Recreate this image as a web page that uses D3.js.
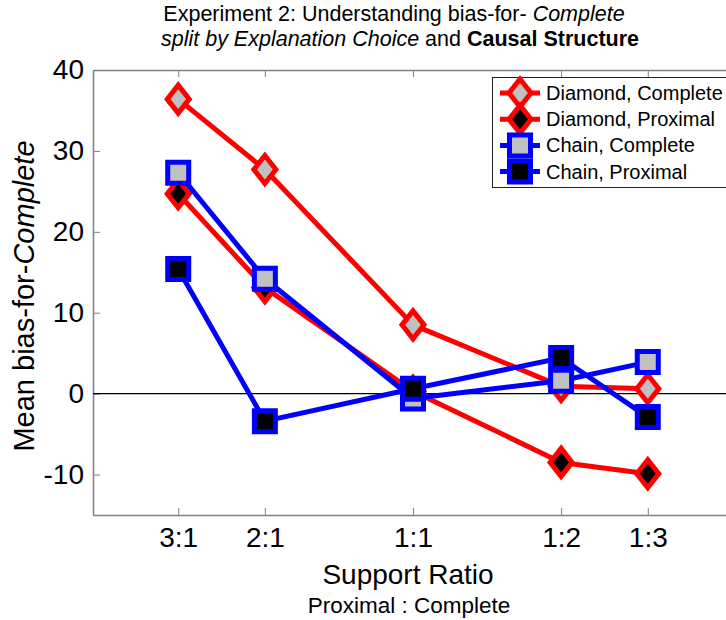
<!DOCTYPE html>
<meta charset="utf-8">
<style>
body { margin: 0; background: #fff; }
svg { display: block; font-family: "Liberation Sans", Arial, Helvetica, sans-serif; }
</style>
<body>
<div id="chart"></div>
<script src="https://cdn.jsdelivr.net/npm/d3@7"></script>
<script>

// data
var ratioLabels = ["3:1", "2:1", "1:1", "1:2", "1:3"];
var ratioValues = [3, 2, 1, 1 / 2, 1 / 3];   // proximal : complete

var diamondComplete = [36.4, 27.7, 8.5, 0.9, 0.6];
var diamondProximal = [24.7, 13.1, 0.3, -8.5, -9.9];
var chainComplete   = [27.3, 14.2, -0.6, 1.6, 3.9];
var chainProximal   = [15.4, -3.4, 0.6, 4.4, -2.9];

var seriesNames = ["Diamond, Complete", "Diamond, Proximal", "Chain, Complete", "Chain, Proximal"];
var yTicks = [-10, 0, 10, 20, 30, 40];

var width = 726,
    height = 620;

// plot box (the right edge runs a little past the window, as in the figure)
var boxLeft = 93, boxRight = 733, boxTop = 70, boxBottom = 515;

var svg = d3.select("#chart").append("svg")
    .attr("width", width)
    .attr("height", height);

var x = d3.scaleLog()
    .domain([4.47, 1 / 4.47])
    .range([boxLeft, boxRight]);

var y = d3.scaleLinear()
    .domain([-15, 40])
    .range([boxBottom, boxTop]);

var series = [
    {name: seriesNames[0], values: diamondComplete, color: "#ff0000", fill: "#c0c0c0", shape: "diamond"},
    {name: seriesNames[1], values: diamondProximal, color: "#ff0000", fill: "#000000", shape: "diamond"},
    {name: seriesNames[2], values: chainComplete,   color: "#0000ff", fill: "#c0c0c0", shape: "square"},
    {name: seriesNames[3], values: chainProximal,   color: "#0000ff", fill: "#000000", shape: "square"}
];

function markerPath(shape) {
    if (shape == "diamond") return "M0,-14L11,0L0,14L-11,0Z";
    return "M-10.5,-10.5L10.5,-10.5L10.5,10.5L-10.5,10.5Z";
}

// axes (box with inward ticks)
var axisColor = "#808080";

var xBottom = svg.append("g")
    .attr("transform", "translate(0," + boxBottom + ")")
    .call(d3.axisBottom(x).tickValues(ratioValues).tickFormat(function(d, i) { return ratioLabels[i]; })
        .tickSizeInner(-7).tickSizeOuter(0).tickPadding(12));

var xTop = svg.append("g")
    .attr("transform", "translate(0," + boxTop + ")")
    .call(d3.axisTop(x).tickValues(ratioValues).tickFormat("")
        .tickSizeInner(-7).tickSizeOuter(0));

// plain hyphen for negatives, like the original figure
var yLeft = svg.append("g")
    .attr("transform", "translate(" + boxLeft + ",0)")
    .call(d3.axisLeft(y).tickValues(yTicks).tickFormat(function(d) { return String(d); })
        .tickSizeInner(-7).tickSizeOuter(0).tickPadding(9));

var yRight = svg.append("g")
    .attr("transform", "translate(" + boxRight + ",0)")
    .call(d3.axisRight(y).tickValues(yTicks).tickFormat("").tickSizeInner(-7).tickSizeOuter(0));

[xBottom, xTop, yLeft, yRight].forEach(function(g) {
    g.select(".domain").attr("stroke", axisColor).attr("stroke-width", 1.5);
    g.selectAll(".tick line").attr("stroke", axisColor).attr("stroke-width", 1);
    g.selectAll(".tick text")
        .attr("fill", "#000")
        .style("font-family", "'Liberation Sans', Arial, sans-serif")
        .style("font-size", "28px");
});

// zero line
svg.append("line")
    .attr("x1", boxLeft).attr("x2", boxRight)
    .attr("y1", y(0)).attr("y2", y(0))
    .attr("stroke", "#000")
    .attr("stroke-width", 1.2);

// data lines and markers
var line = d3.line()
    .x(function(d, i) { return x(ratioValues[i]); })
    .y(function(d) { return y(d); });

series.forEach(function(s) {
    var g = svg.append("g");
    g.append("path")
        .attr("d", line(s.values))
        .attr("fill", "none")
        .attr("stroke", s.color)
        .attr("stroke-width", 5)
        .attr("stroke-linejoin", "round");
    g.selectAll(".mark")
        .data(s.values)
        .enter().append("path")
        .attr("class", "mark")
        .attr("transform", function(d, i) { return "translate(" + x(ratioValues[i]) + "," + y(d) + ")"; })
        .attr("d", markerPath(s.shape))
        .attr("fill", s.fill)
        .attr("stroke", s.color)
        .attr("stroke-width", 5)
        .attr("stroke-linejoin", "miter");
});

// legend
var legend = svg.append("g");
legend.append("rect")
    .attr("x", 492.5).attr("y", 77.5)
    .attr("width", 260).attr("height", 110)
    .attr("fill", "#fff")
    .attr("stroke", "#222")
    .attr("stroke-width", 1);

series.forEach(function(s, i) {
    var cy = 93 + i * 26.2;
    var row = legend.append("g");
    row.append("line")
        .attr("x1", 500).attr("x2", 540)
        .attr("y1", cy).attr("y2", cy)
        .attr("stroke", s.color)
        .attr("stroke-width", 5);
    row.append("path")
        .attr("transform", "translate(520," + cy + ")")
        .attr("d", markerPath(s.shape))
        .attr("fill", s.fill)
        .attr("stroke", s.color)
        .attr("stroke-width", 5);
    row.append("text")
        .attr("x", 546).attr("y", cy + 7)
        .style("font-size", "20px")
        .text(s.name);
});

// titles and axis labels
var title = svg.append("text")
    .attr("x", 394).attr("y", 21)
    .attr("text-anchor", "middle")
    .style("font-size", "21.5px");
title.append("tspan").text("Experiment 2: Understanding bias-for- ");
title.append("tspan").style("font-style", "italic").text("Complete");

var title2 = svg.append("text")
    .attr("x", 400).attr("y", 46)
    .attr("text-anchor", "middle")
    .style("font-size", "21.5px");
title2.append("tspan").style("font-style", "italic").text("split by Explanation Choice");
title2.append("tspan").text(" and ");
title2.append("tspan").style("font-weight", "bold").text("Causal Structure");

svg.append("text")
    .attr("transform", "translate(34,296) rotate(-90)")
    .attr("text-anchor", "middle")
    .style("font-size", "29px")
    .call(function(t) {
        t.append("tspan").text("Mean bias-for-");
        t.append("tspan").style("font-style", "italic").text("Complete");
    });

svg.append("text")
    .attr("x", 408).attr("y", 584)
    .attr("text-anchor", "middle")
    .style("font-size", "28px")
    .text("Support Ratio");

svg.append("text")
    .attr("x", 409).attr("y", 613)
    .attr("text-anchor", "middle")
    .style("font-size", "22.5px")
    .text("Proximal : Complete");

</script>
